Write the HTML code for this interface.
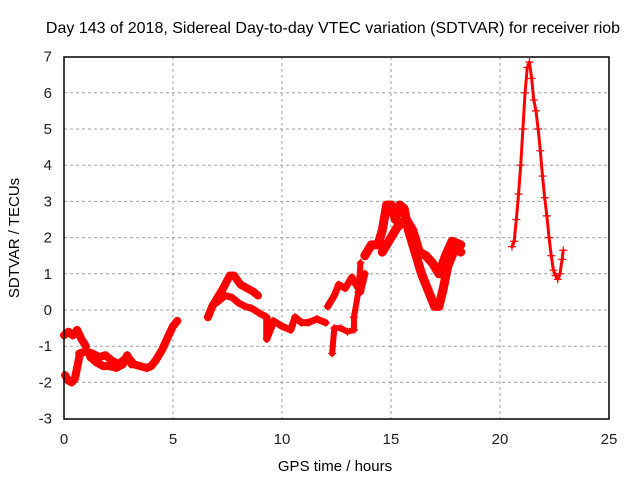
<!DOCTYPE html>
<html><head><meta charset="utf-8"><style>
body{margin:0;background:#fff}
svg{display:block;font-family:"Liberation Sans",sans-serif}
</style></head><body>
<svg id="c" width="640" height="480">
<text x="333" y="33" font-size="16" text-anchor="middle">Day 143 of 2018, Sidereal Day-to-day VTEC variation (SDTVAR) for receiver riob</text>
<text x="335" y="471" font-size="15" text-anchor="middle">GPS time / hours</text>
<text transform="translate(19,238) rotate(-90)" font-size="15" text-anchor="middle">SDTVAR / TECUs</text>
<g id="grid"></g><g id="ticks"></g><g id="marks"></g>
<rect x="64" y="57" width="545" height="362" fill="none" stroke="#000" stroke-width="1.5"/>
</svg>
<script>
const xTicks=[0,5,10,15,20,25];
const yTicks=[-3,-2,-1,0,1,2,3,4,5,6,7];
const segLowStartT=[0.05,0.2,0.35,0.5,0.6,0.7];
const segLowStartV=[-1.8,-1.95,-2.0,-1.9,-1.6,-1.3];
const segUpStartT=[0,0.2,0.4,0.6,0.8,1.0];
const segUpStartV=[-0.7,-0.6,-0.7,-0.55,-0.8,-1.0];
const segMainT=[0.7,1.0,1.3,1.6,1.9,2.2,2.5,2.8,3.0,3.2,3.5,3.8,4.0,4.2,4.5,4.8,5.0,5.2];
const segMainV=[-1.2,-1.15,-1.2,-1.3,-1.25,-1.4,-1.5,-1.35,-1.35,-1.5,-1.55,-1.6,-1.55,-1.4,-1.1,-0.7,-0.45,-0.3];
const segMain2T=[1.2,1.5,1.8,2.1,2.4,2.7,2.9,3.1];
const segMain2V=[-1.3,-1.45,-1.55,-1.55,-1.6,-1.5,-1.25,-1.5];
const segMidUpT=[6.6,6.8,7.0,7.3,7.6,7.8,8.1,8.4,8.7,8.9];
const segMidUpV=[-0.2,0.1,0.3,0.6,0.95,0.95,0.7,0.6,0.5,0.4];
const segMidT=[7.0,7.4,7.7,8.0,8.3,8.6,9.0,9.3,9.3,9.5,9.6,10.0,10.4,10.6,10.9,11.2,11.6,12.0];
const segMidV=[0.2,0.4,0.35,0.2,0.1,0.05,-0.1,-0.2,-0.8,-0.5,-0.3,-0.45,-0.55,-0.2,-0.35,-0.35,-0.25,-0.35];
const segAT=[12.1,12.4,12.6,12.9,13.2,13.4,13.6,13.8];
const segAV=[0.1,0.4,0.7,0.6,0.9,0.7,0.5,1.0];
const segBT=[12.3,12.4,12.7,13.0,13.3,13.3,13.5,13.6];
const segBV=[-1.2,-0.5,-0.5,-0.6,-0.55,-0.2,0.5,1.3];
const segCT=[13.8,14.1,14.4,14.6,14.8,15.0,15.2,15.4,15.6,15.8,16.0,16.2,16.4,16.6,16.8,17.0,17.2,17.4,17.6,17.8,18.0,18.2];
const segCV=[1.5,1.8,1.8,2.2,2.9,2.9,2.5,2.9,2.8,2.2,1.8,1.4,1.0,0.7,0.4,0.1,0.1,0.6,1.2,1.5,1.8,1.6];
const segDT=[14.6,14.9,15.0,15.3,15.7,16.0,16.3,16.6,16.9,17.2,17.5,17.8,18.2];
const segDV=[1.6,1.9,2.0,2.3,2.5,2.2,1.6,1.5,1.3,1.0,1.5,1.9,1.8];
const peakT=[20.55,20.65,20.75,20.85,20.95,21.05,21.15,21.25,21.35,21.45,21.55,21.65,21.75,21.85,21.95,22.05,22.15,22.25,22.35,22.45,22.55,22.65,22.75,22.85,22.9];
const peakV=[1.75,1.9,2.5,3.2,4.0,5.0,6.0,6.7,6.85,6.4,5.8,5.5,5.0,4.4,3.7,3.1,2.6,2.0,1.5,1.1,0.95,0.85,1.0,1.4,1.65];

const X=t=>64+t*21.8, Y=v=>310-v*36.2;
const NS='http://www.w3.org/2000/svg';
function mk(tag,at,parent){const e=document.createElementNS(NS,tag);for(const k in at)e.setAttribute(k,at[k]);parent.appendChild(e);return e;}
const G=document.getElementById('grid'),Tk=document.getElementById('ticks'),M=document.getElementById('marks');
xTicks.forEach(t=>{
  if(t>0&&t<25){const l=mk('line',{x1:X(t),x2:X(t),y1:57,y2:419,stroke:'#a0a0a0','stroke-dasharray':'3,3'},G);
  
  }
  const tx=mk('text',{x:X(t),y:444,'font-size':15,'text-anchor':'middle',fill:'#222'},Tk);tx.textContent=t;
  
  
});
yTicks.forEach(v=>{
  if(v>-3&&v<7){const l=mk('line',{x1:64,x2:609,y1:Y(v),y2:Y(v),stroke:'#a0a0a0','stroke-dasharray':'3,3'},G);
  
  }
  const tx=mk('text',{x:52,y:Y(v)+5,'font-size':15,'text-anchor':'end',fill:'#222'},Tk);tx.textContent=v;
  
  
});
const series=[[segLowStartT,segLowStartV,8],[segUpStartT,segUpStartV,8],[segMainT,segMainV,8],[segMain2T,segMain2V,8],[segMidUpT,segMidUpV,8],[segMidT,segMidV,7],[segAT,segAV,7],[segBT,segBV,6],[segCT,segCV,9],[segDT,segDV,9],[peakT,peakV,3]];
series.forEach(([T,V,w],i)=>{
  const pts=T.map((t,j)=>X(t)+','+Y(V[j])).join(' ');
  const p=mk('polyline',{points:pts,fill:'none',stroke:'#ff0000','stroke-width':w,'stroke-linejoin':'round','stroke-linecap':'round'},M);
  
  
  T.forEach((t,j)=>{const x=X(t),y=Y(V[j]);
    const m=mk('path',{d:`M${x-4},${y}H${x+4}M${x},${y-4}V${y+4}`,stroke:'#ff0000','stroke-width':1.2},M);
    
    
  });
});
</script>
</body></html>
